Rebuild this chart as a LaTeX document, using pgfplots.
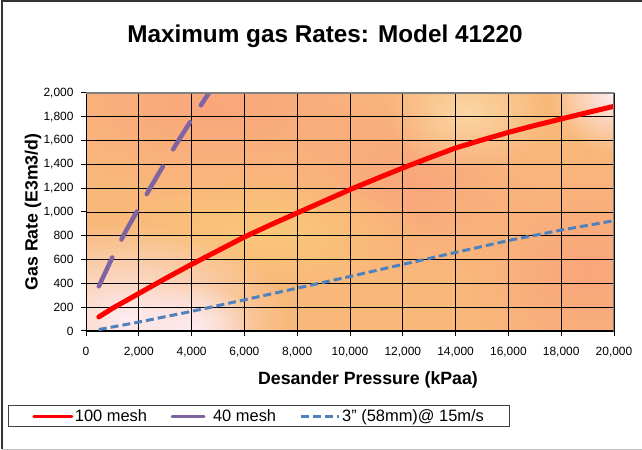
\documentclass[border=0pt]{standalone}
\usepackage{fontspec}
\setmainfont{Liberation Sans}
\usepackage{pgfplots}
\pgfplotsset{compat=1.18}
\usetikzlibrary{fadings}

\definecolor{purpleline}{HTML}{8064A2}
\definecolor{blueline}{HTML}{4F81BD}
\definecolor{bgsalmon}{HTML}{F9A67B}
\definecolor{bgorange}{HTML}{F9B97B}
\definecolor{bgyellow}{HTML}{F9C77A}
\definecolor{bgpink}{HTML}{FDECF3}
\definecolor{bglight}{HTML}{FBD7A4}

\tikzfading[name=soft, inner color=transparent!0, outer color=transparent!100]

\begin{document}
\begin{tikzpicture}[x=1bp,y=1bp]
\useasboundingbox (0,0) rectangle (642,450);
% chart frame
\draw[line width=1.5bp, black!80] (2,0.8) -- (2,449) -- (660,449);
\draw[line width=1bp, black!25] (2,0.8) -- (660,0.8);

% plot area background
\begin{scope}
\clip (86,119) rectangle (614,357);
\fill[bgorange] (86,119) rectangle (614,357);
\begin{scope}[shift={(86,119)}, x=528bp, y=238bp]
\fill[bgsalmon, path fading=soft] (0.25,0.95) ellipse (0.4 and 0.4);
\fill[bgsalmon, path fading=soft] (0.62,0.62) ellipse (0.25 and 0.4);
\fill[bgsalmon, path fading=soft] (0.95,0.25) ellipse (0.25 and 0.55);
\fill[bgyellow, path fading=soft] (0.35,0.42) ellipse (0.3 and 0.22);
\fill[bglight, path fading=soft] (0.72,0.92) ellipse (0.15 and 0.25);
\fill[bgpink, path fading=soft] (0.08,0.05) ellipse (0.3 and 0.4);
\fill[bgpink, path fading=soft] (0.2,0.0) ellipse (0.12 and 0.2);
\fill[bgpink, path fading=soft] (1.0,1.0) ellipse (0.12 and 0.25);
\end{scope}
\end{scope}

\node[anchor=base, font=\bfseries\fontsize{24.4}{29}\selectfont] at (325,407) {Maximum gas Rates: Model 41220};
\node[anchor=base, font=\bfseries\fontsize{17.8}{21}\selectfont] at (368,65) {Desander Pressure (kPaa)};
\node[rotate=90, font=\bfseries\fontsize{17.8}{21}\selectfont] at (33,238) {Gas Rate (E3m3/d)};

\begin{axis}[
    at={(86bp,119bp)}, anchor=south west,
    scale only axis, width=528bp, height=238bp,
    xmin=0, xmax=20000, ymin=0, ymax=2000,
    xtick distance=2000, ytick distance=200,
    scaled ticks=false,
    /pgf/number format/1000 sep={,},
    /pgf/number format/assume math mode=true,
    ticklabel style={font=\fontsize{12}{14}\selectfont},
    xticklabel style={yshift=-8bp},
    yticklabel style={xshift=-4bp},
    grid=major, major grid style={black, line width=0.9bp},
    axis x line*=bottom, axis y line*=left,
    axis line style={-, black, line width=1bp},
    tick align=outside, major tick length=5bp,
    tick style={black, line width=1bp},
    legend image code/.code={\draw[#1, line width=3bp] (0bp,0bp) -- (38bp,0bp);},
    legend style={at={(-0.1477,-0.311)}, anchor=north west,
        legend columns=3, draw=black!75, line width=0.8bp,
        font=\fontsize{16.5}{19}\selectfont,
        inner xsep=24bp, inner ysep=2.5bp,
        nodes={inner sep=1.5bp},
        /tikz/every even column/.append style={column sep=22bp}},
    legend cell align=left,
]
\addplot[red, line width=5bp, line cap=round, line join=round] coordinates {
(485,118) (1000,190) (2000,315) (3000,440) (4000,560) (5000,675) (6000,790)
(7000,893) (8000,992) (9000,1090) (10000,1188) (11000,1280) (12000,1370)
(13000,1455) (14000,1538) (15000,1605) (16000,1669) (17000,1727) (18000,1782)
(19000,1836) (20000,1888)};
\addlegendentry{100 mesh}
\addplot[purpleline, line width=4.5bp, dash pattern=on 32bp off 20bp, line cap=round, line join=round] coordinates {
(485,375) (1000,620) (1500,837) (2000,1032) (2500,1228) (3000,1415) (3500,1600)
(4000,1775) (4500,1948) (5000,2110)};
\addlegendentry{40 mesh}
\addplot[blueline, line width=3bp, dash pattern=on 8bp off 4bp] coordinates {
(485,12) (2000,75) (4000,165) (6000,262) (8000,360) (10000,458) (12000,560)
(14000,660) (16000,760) (18000,848) (20000,927)};
\addlegendentry{3\symbol{34} (58mm)@ 15m/s}
\draw[black!50, line width=1.2bp] (rel axis cs:0,1) -- (rel axis cs:1,1) -- (rel axis cs:1,0);
\end{axis}
\end{tikzpicture}
\end{document}
